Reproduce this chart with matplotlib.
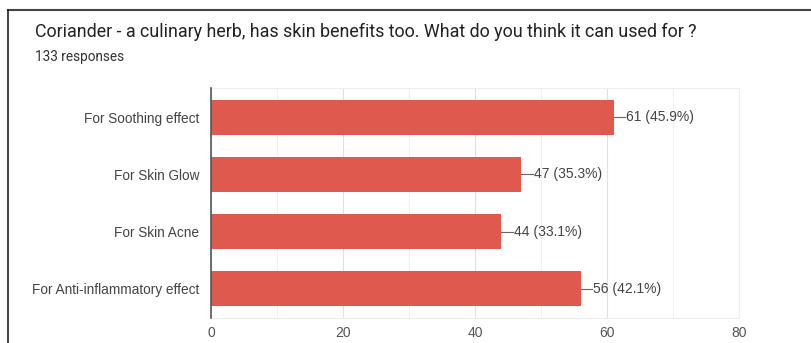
import matplotlib.pyplot as plt
from matplotlib.lines import Line2D

plt.rcParams['font.family'] = ['Roboto', 'DejaVu Sans']

title = "Coriander - a culinary herb, has skin benefits too. What do you think it can used for ?"
subtitle = "133 responses"
categories = ["For Soothing effect", "For Skin Glow", "For Skin Acne", "For Anti-inflammatory effect"]
counts = [61, 47, 44, 56]
percents = [45.9, 35.3, 33.1, 42.1]
xticks = [0, 20, 40, 60, 80]

bar_color = "#df594e"
label_font = ['Liberation Sans', 'DejaVu Sans']

fig = plt.figure(figsize=(8.11, 3.43), dpi=100)
ax = fig.add_axes([211 / 811, 1 - 318 / 343, 528 / 811, 230 / 343])

y = list(range(len(categories)))
ax.barh(y, counts, height=0.61, color=bar_color, zorder=3)

# leader line + value label at the end of each bar
for i, (c, p) in enumerate(zip(counts, percents)):
    ax.plot([c, c + 1.8], [i, i], color="#666666", lw=0.8, zorder=3)
    ax.text(c + 1.9, i, f"{c} ({p}%)", va="center", ha="left",
            fontsize=10, color="#444444", family=label_font)

ax.set_xlim(0, 80)
ax.set_ylim(3.51, -0.51)
ax.set_yticks(y)
ax.set_yticklabels(categories, fontsize=9.8, color="#444444", family=label_font)
ax.set_xticks(xticks)
ax.set_xticklabels([str(t) for t in xticks], fontsize=10, color="#555555", family=label_font)
ax.set_xticks(range(10, 80, 20), minor=True)
ax.tick_params(axis="both", which="both", length=0)
ax.tick_params(axis="x", pad=6)
ax.tick_params(axis="y", pad=8.5)
ax.grid(axis="x", which="major", color="#e0e0e0", lw=0.8, zorder=0)
ax.grid(axis="x", which="minor", color="#f0f0f0", lw=0.8, zorder=0)

for side in ["top", "right", "bottom"]:
    ax.spines[side].set_color("#eeeeee")
ax.spines["left"].set_color("#555555")
ax.spines["left"].set_linewidth(1.2)
ax.spines["left"].set_zorder(4)

fig.text(35 / 811, 1 - 32 / 343, title, fontsize=12.85, color="#222222", va="center")
fig.text(35 / 811, 1 - 57 / 343, subtitle, fontsize=9.8, color="#333333", va="center")

# card border (top and left edges)
fig.add_artist(Line2D([8 / 811, 1], [1 - 9.5 / 343] * 2, color="#444444", lw=1.5,
                      transform=fig.transFigure))
fig.add_artist(Line2D([8 / 811] * 2, [0, 1 - 9.5 / 343], color="#222222", lw=1.2,
                      transform=fig.transFigure))

fig.savefig("out.png", dpi=100)
